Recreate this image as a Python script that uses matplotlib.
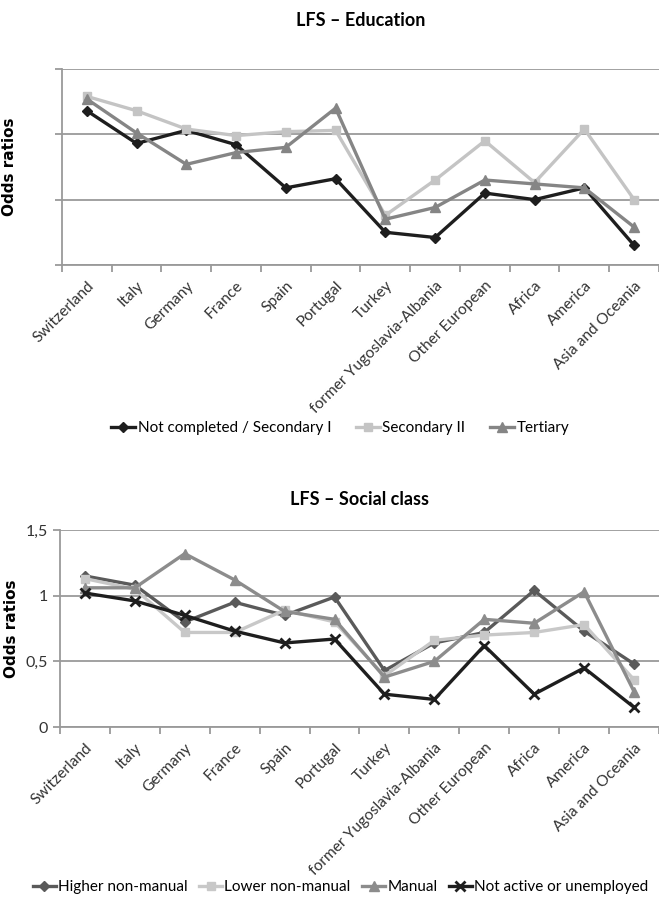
import numpy as np
import matplotlib.pyplot as plt

plt.rcParams['font.family'] = ['Lato', 'DejaVu Sans']

regions = ['Switzerland', 'Italy', 'Germany', 'France', 'Spain', 'Portugal', 'Turkey',
           'former Yugoslavia-Albania', 'Other European', 'Africa', 'America', 'Asia and Oceania']

# Education (top panel)
edu_not_completed = [1.18, 0.93, 1.03, 0.92, 0.59, 0.66, 0.25, 0.21, 0.55, 0.50, 0.59, 0.15]
edu_secondary2 = [1.29, 1.18, 1.04, 0.99, 1.02, 1.03, 0.38, 0.65, 0.95, 0.63, 1.04, 0.50]
edu_tertiary = [1.27, 1.01, 0.77, 0.86, 0.90, 1.20, 0.35, 0.44, 0.65, 0.62, 0.59, 0.29]

# Social class (bottom panel)
cls_higher = [1.15, 1.08, 0.80, 0.95, 0.85, 0.99, 0.43, 0.64, 0.72, 1.04, 0.73, 0.48]
cls_lower = [1.13, 1.05, 0.72, 0.72, 0.89, 0.80, 0.39, 0.66, 0.70, 0.72, 0.78, 0.36]
cls_manual = [1.06, 1.06, 1.32, 1.12, 0.88, 0.82, 0.38, 0.50, 0.82, 0.79, 1.03, 0.27]
cls_inactive = [1.02, 0.96, 0.85, 0.73, 0.64, 0.67, 0.25, 0.21, 0.62, 0.25, 0.45, 0.15]

x = np.arange(len(regions))


def style_axes(ax, show_ylabels):
    ax.set_xlim(-0.5, len(regions) - 0.5)
    ax.set_ylim(0, 1.5)
    ax.set_yticks([0, 0.5, 1, 1.5])
    if show_ylabels:
        ax.set_yticklabels(['0', '0,5', '1', '1,5'])
    else:
        ax.set_yticklabels([])
    ax.yaxis.grid(True, color='#9a9a9a', linewidth=1.3)
    ax.set_axisbelow(True)
    for s in ['top', 'right']:
        ax.spines[s].set_visible(False)
    for s in ['left', 'bottom']:
        ax.spines[s].set_color('#9a9a9a')
        ax.spines[s].set_linewidth(1.3)
    ax.tick_params(axis='y', length=5, color='#9a9a9a', width=1.3, labelsize=11.5, labelcolor='#333333')
    ax.set_xticks(x)
    ax.set_xticklabels(regions, rotation=45, ha='right', rotation_mode='anchor', fontsize=11.2, color='#333333')
    ax.tick_params(axis='x', which='major', length=0, pad=10)
    ax.set_xticks(np.arange(-0.5, len(regions), 1), minor=True)
    ax.tick_params(axis='x', which='minor', length=5, color='#9a9a9a', width=1.3)
    ax.set_ylabel('Odds ratios', fontsize=11, fontweight='bold', family='DejaVu Sans')


fig = plt.figure(figsize=(6.59, 9), dpi=100)

ax1 = fig.add_axes([0.094, 0.7056, 0.906, 0.2178])
l1 = ax1.plot(x, edu_not_completed, color='#1e1e1e', lw=2.4, marker='D', ms=5, label='Not completed / Secondary I')
l2 = ax1.plot(x, edu_secondary2, color='#c4c4c4', lw=2.4, marker='s', ms=6, label='Secondary II')
l3 = ax1.plot(x, edu_tertiary, color='#858585', lw=2.4, marker='^', ms=7, label='Tertiary')
style_axes(ax1, False)
ax1.yaxis.set_label_coords(-0.075, 0.5)
ax1.set_title('LFS – Education', fontsize=13, fontweight='bold', pad=31)
fig.legend(handles=l1 + l2 + l3, loc='center', bbox_to_anchor=(0.516, 0.5244), ncol=3, frameon=False,
           fontsize=11, handlelength=1.6, handletextpad=0.15, columnspacing=1.6, borderaxespad=0)

ax2 = fig.add_axes([0.091, 0.1922, 0.909, 0.2189])
m1 = ax2.plot(x, cls_higher, color='#5a5a5a', lw=2.4, marker='D', ms=5, label='Higher non-manual')
m2 = ax2.plot(x, cls_lower, color='#c8c8c8', lw=2.4, marker='s', ms=6, label='Lower non-manual')
m3 = ax2.plot(x, cls_manual, color='#8c8c8c', lw=2.4, marker='^', ms=7, label='Manual')
m4 = ax2.plot(x, cls_inactive, color='#1e1e1e', lw=2.4, marker='x', ms=7, mew=2, label='Not active or unemployed')
style_axes(ax2, True)
ax2.yaxis.set_label_coords(-0.068, 0.5)
ax2.set_title('LFS – Social class', fontsize=13, fontweight='bold', pad=18)
fig.legend(handles=m1 + m2 + m3 + m4, loc='center', bbox_to_anchor=(0.517, 0.0144), ncol=4, frameon=False,
           fontsize=11, handlelength=1.5, handletextpad=0.15, columnspacing=0.75, borderaxespad=0,
           borderpad=0.2)

fig.savefig('out.png', dpi=100)
